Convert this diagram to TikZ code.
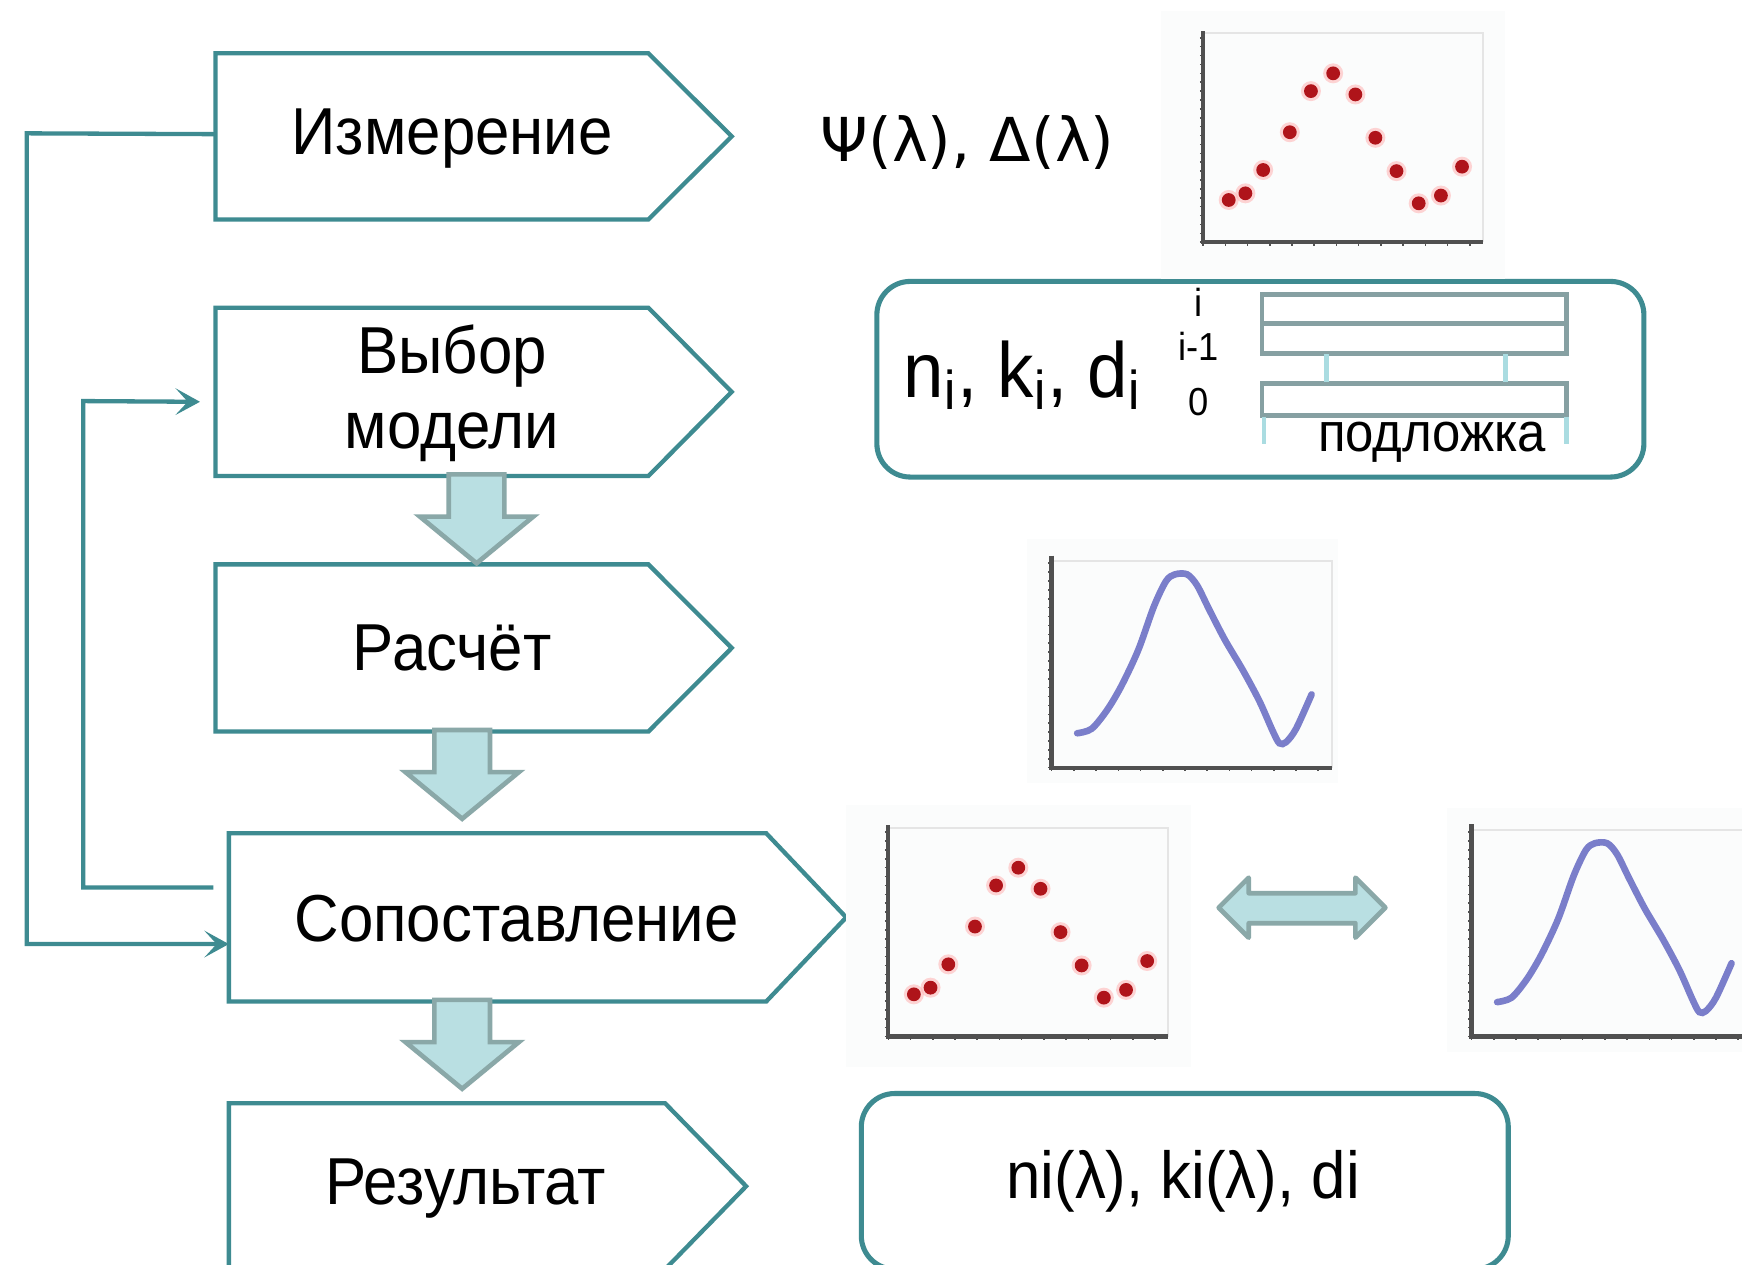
\documentclass[tikz,border=0pt]{standalone}
\usepackage{fontspec}
\setmainfont{Liberation Sans}[FakeStretch=0.93]
\newfontfamily\grk{DejaVu Sans}
\usetikzlibrary{arrows.meta,calc}
\definecolor{tealc}{RGB}{62,139,145}
\definecolor{barfill}{RGB}{185,223,226}
\definecolor{barline}{RGB}{138,168,168}
\definecolor{layerc}{RGB}{134,160,162}
\definecolor{lightc}{RGB}{170,220,225}
\definecolor{curvec}{RGB}{122,126,202}
\definecolor{dotc}{RGB}{175,20,26}
\definecolor{axisc}{RGB}{80,80,80}
\definecolor{plotbg}{RGB}{251,252,252}
\newcommand\chevbox[6]{%
  \node[body, minimum width=#4, minimum height=#5] (#1) at (#2,#3) {};
  \draw[chev] (#1.north west) -- (#1.north east) -- ($(#1.east)+(#6,0)$) -- (#1.south east) -- (#1.south west) -- cycle;}
\newcommand\blkdown[4]{% cx, ytop, yhead, ytip
  \draw[blk] ({#1-25},#2) -- ({#1-25},#3) -- ({#1-51},#3) -- (#1,#4) -- ({#1+51},#3) -- ({#1+25},#3) -- ({#1+25},#2) -- cycle;}
\newcommand\scatterplot[1]{% #1: bottom of background
  \fill[plotbg] (-38,-208) rectangle (272,#1);
  \draw[black!10, line width=0.5pt] (0,-188) -- (252,-188) -- (252,0);
  \foreach \t in {0,8,...,184} \draw[axisc, line width=0.4pt] (-3,-\t) -- (0,-\t);
  \foreach \t in {0,20,...,250} \draw[axisc, line width=0.4pt] (\t,0) -- (\t,3);
  \draw[axisc, line width=1.1pt] (0,-190) -- (0,0) -- (252,0);
  \foreach \px/\py in {23/-38,38/-44,54/-65,78/-99,97/-136,117/-152,137/-133,155/-94,174/-64,194/-35,214/-42,233/-68}{
    \fill[red!30, opacity=0.55] (\px,\py) circle (0.09cm);
    \fill[dotc] (\px,\py) circle (0.062cm);}}
\newcommand\curveplot{%
  \fill[plotbg] (-22,-206) rectangle (258,14);
  \draw[black!10, line width=0.5pt] (0,-186) -- (252,-186) -- (252,0);
  \foreach \t in {0,8,...,184} \draw[axisc, line width=0.4pt] (-3,-\t) -- (0,-\t);
  \foreach \t in {0,20,...,250} \draw[axisc, line width=0.4pt] (\t,0) -- (\t,3);
  \draw[axisc, line width=1.1pt] (0,-191) -- (0,0) -- (252,0);
  \draw[curvec, line width=1.7pt, line cap=round] plot[smooth, tension=0.5] coordinates {(23,-31) (36,-35) (50,-52) (63,-74) (78,-106) (92,-145) (103,-168) (111,-174) (122,-174) (131,-164) (142,-142) (156,-115) (172,-88) (187,-60) (199,-33) (205,-22) (211,-23) (220,-35) (234,-66)};}
\begin{document}
\begin{tikzpicture}[x=0.01cm, y=-0.01cm,
  body/.style={draw=none, inner sep=0pt, anchor=north west},
  chev/.style={draw=tealc, line width=1.1pt, line join=miter},
  lbl/.style={font=\fontsize{17}{19.3}\selectfont, inner sep=0pt},
  feed/.style={draw=tealc, line width=1.1pt, -{Stealth[length=0.22cm, width=0.24cm, inset=0.11cm]}},
  blk/.style={fill=barfill, draw=barline, line width=1.2pt, line join=miter},
  layer/.style={draw=layerc, line width=1.2pt},
  thin/.style={draw=lightc, line width=1.1pt},
  rbox/.style={draw=tealc, line width=1.3pt, rounded corners=0.3cm, inner sep=0pt, anchor=north west}]
\useasboundingbox (0,0) rectangle (1568,1138);
\clip (0,0) rectangle (1568,1138);
\fill[white] (0,0) rectangle (1568,1138);

% process boxes
\chevbox{izm}{194}{48}{3.88cm}{1.48cm}{75}
\chevbox{vyb}{194}{277}{3.88cm}{1.50cm}{75}
\chevbox{ras}{194}{508}{3.88cm}{1.49cm}{75}
\chevbox{sop}{206}{750}{4.82cm}{1.50cm}{72}
\chevbox{rez}{206}{993}{3.91cm}{1.48cm}{73}

\node[lbl] (tizm) at (407,125) {Измерение};
\node[lbl, align=center] (tvyb) at (407,354) {Выбор\\модели};
\node[lbl] (tras) at (407,583) {Расчёт};
\node[lbl] (tsop) at (465,827) {Сопоставление};
\node[lbl] (trez) at (419,1070) {Результат};

% block arrows between steps
\blkdown{429}{427}{465}{507}
\blkdown{416}{657}{695}{737}
\blkdown{416}{900}{938}{980}

% feedback connectors
\draw[feed] ($(izm.west)+(0,-2)$) -- (24,120) |- ($(sop.west)+(0,24)$);
\draw[feed, shorten <=0.14cm, shorten >=0.14cm] ($(sop.west)+(0,-27)$) -| (75,361) -- ($(vyb.west)+(0,9)$);

% measurement text
\node[font=\grk\fontsize{15.5}{18}\selectfont, inner sep=0pt] (psi) at (871,128) {Ψ(λ), Δ(λ)};

% model box
\node[rbox, minimum width=6.9cm, minimum height=1.76cm] (model) at (787,251) {};
\node[font=\fontsize{20}{24}\selectfont, anchor=base west, inner sep=0pt] (nkd) at (813,358) {n\textsubscript{i}, k\textsubscript{i}, d\textsubscript{i}};
\node[font=\fontsize{10}{12}\selectfont, inner sep=0pt] (li) at (1079,272) {i};
\node[font=\fontsize{10}{12}\selectfont, inner sep=0pt] (lim) at (1079,312) {i-1};
\node[font=\fontsize{10}{12}\selectfont, inner sep=0pt] (lz) at (1079,362) {0};
\draw[layer] (1136,265) rectangle (1410,318);
\draw[layer] (1136,291) -- (1410,291);
\draw[layer] (1136,345) rectangle (1410,374);
\draw[thin] (1194,319) -- (1194,344);
\draw[thin] (1355,319) -- (1355,344);
\draw[thin] (1138,375) -- (1138,400);
\draw[thin] (1410,375) -- (1410,400);
\node[font=\fontsize{14}{16}\selectfont, inner sep=0pt] (sub) at (1289,398) {подложка};

% plots
\begin{scope}[shift={(1083,218)}]\scatterplot{33}\end{scope}
\begin{scope}[shift={(946.6,691)}]\curveplot\end{scope}
\begin{scope}[shift={(799.6,933)}]\scatterplot{27}\end{scope}
\begin{scope}[shift={(1324.6,933)}]\curveplot\end{scope}

% comparison double arrow
\draw[blk, line join=round] (1097,817) -- (1124,790) -- (1124,804) -- (1220,804) -- (1220,790) -- (1247,817) -- (1220,844) -- (1220,831) -- (1124,831) -- (1124,844) -- cycle;

% result box
\node[rbox, minimum width=5.82cm, minimum height=1.58cm] (res) at (773,982) {};
\node[lbl] (tres) at (1065,1063) {ni(λ), ki(λ), di};
\end{tikzpicture}
\end{document}
